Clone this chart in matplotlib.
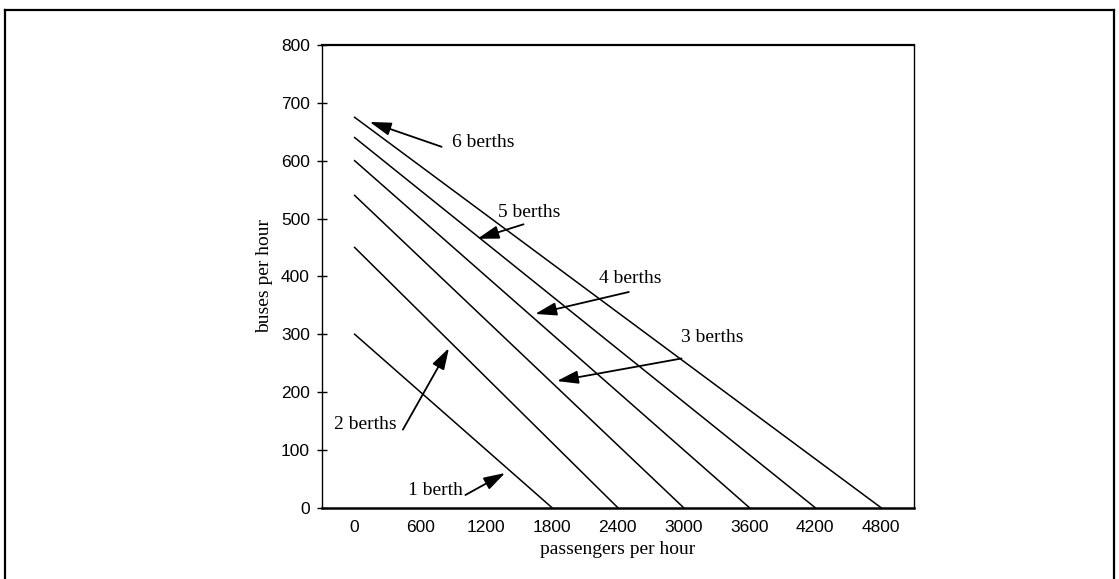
import matplotlib.pyplot as plt
from matplotlib.lines import Line2D

# berth capacity lines: buses/hour at zero passengers, passengers/hour at zero buses
berths = [1, 2, 3, 4, 5, 6]
bus_max = [300, 450, 540, 600, 640, 675]
pax_max = [1800, 2400, 3000, 3600, 4200, 4800]

# label text, text anchor, arrow tail, arrow tip (data units)
labels = ['1 berth', '2 berths', '3 berths', '4 berths', '5 berths', '6 berths']
text_pos = [(490, 30), (-190, 144), (2980, 295), (2230, 397), (1310, 511), (884, 631)]
arrow_tail = [(1010, 22), (440, 135), (2980, 258), (2500, 373), (1540, 490), (793, 624)]
arrow_tip = [(1372, 60), (860, 276), (1844, 219), (1646, 335), (1120, 465), (137, 667)]

x_ticks = [0, 600, 1200, 1800, 2400, 3000, 3600, 4200, 4800]
y_ticks = [0, 100, 200, 300, 400, 500, 600, 700, 800]

serif = 'Liberation Serif'
sans = 'Liberation Sans'

fig = plt.figure(figsize=(11.19, 5.79), dpi=100)
ax = fig.add_axes([0.2875, 0.1231, 0.5293, 0.7992])

for b, y0, x0 in zip(berths, bus_max, pax_max):
    ax.plot([0, x0], [y0, 0], color='black', lw=1.1)

for lab, tp, tail, tip in zip(labels, text_pos, arrow_tail, arrow_tip):
    ax.text(tp[0], tp[1], lab, family=serif, fontsize=14, va='center', ha='left')
    ax.annotate('', xy=tip, xytext=tail,
                arrowprops=dict(arrowstyle='-|>,head_length=0.65,head_width=0.2',
                                mutation_scale=20, color='black', lw=1.3,
                                shrinkA=0, shrinkB=0))

ax.set_xlim(-300, 5100)
ax.set_ylim(0, 800)
ax.set_xticks(x_ticks)
ax.set_yticks(y_ticks)
ax.tick_params(axis='x', length=0, pad=9)
ax.tick_params(axis='y', direction='inout', length=7, width=1, pad=5)
for lab in ax.get_xticklabels() + ax.get_yticklabels():
    lab.set_family(sans)
    lab.set_fontsize(12.5)

ax.spines['bottom'].set_linewidth(1.8)
ax.spines['top'].set_linewidth(1.6)
ax.spines['left'].set_linewidth(1.0)
ax.spines['right'].set_linewidth(1.0)

ax.set_xlabel('passengers per hour', family=serif, fontsize=14, labelpad=4)
ax.set_ylabel('buses per hour', family=serif, fontsize=14, labelpad=6)

# page frame around the figure
fig.add_artist(Line2D([0.0045, 0.0045], [0.0, 0.983], color='black', lw=1.6))
fig.add_artist(Line2D([0.0045, 0.9955], [0.983, 0.983], color='black', lw=1.6))
fig.add_artist(Line2D([0.9955, 0.9955], [0.0, 0.983], color='black', lw=1.6))

fig.savefig('out.png', dpi=100)
